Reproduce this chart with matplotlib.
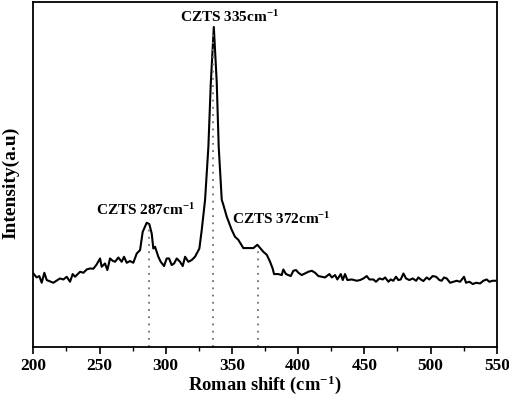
import numpy as np
import matplotlib
matplotlib.use('Agg')
import matplotlib.pyplot as plt
from matplotlib.ticker import MultipleLocator

plt.rcParams['font.family'] = 'Liberation Serif'
plt.rcParams['font.weight'] = 'bold'
plt.rcParams['mathtext.fontset'] = 'custom'
plt.rcParams['mathtext.rm'] = 'Liberation Serif:bold'
plt.rcParams['mathtext.bf'] = 'Liberation Serif:bold'
plt.rcParams['mathtext.default'] = 'bf'

# Raman spectrum (arbitrary intensity units)
shift = [200, 202.5, 204.5, 206.3, 208.3, 210.1, 215.1, 220.1, 222.7, 225.2, 227.7, 229.7,
         231.5, 235.3, 237.8, 240.3, 242.8, 245.3, 247.8, 250.4, 251.6, 254.1, 255.9, 257.9,
         259.9, 261.7, 264.2, 266.7, 268.5, 270.5, 273.0, 275.5, 278.1, 280.6, 282.6, 285.6,
         287.6, 289.4, 290.6, 291.9, 294.4, 296.2, 298.7, 300.7, 302.5, 304.5, 306.3, 308.3,
         310.8, 312.8, 314.6, 317.1, 319.6, 322.1, 325.4, 327.2, 329.7, 332.2, 334.0, 336.3,
         338.5, 340.0, 342.3, 343.5, 346.1, 349.8, 352.3, 354.8, 358.6, 362.4, 366.2, 369.2,
         371.3, 373.7, 376.3, 378.8, 380.8, 381.8, 385.0, 387.6, 388.8, 390.8, 392.6, 394.4,
         396.4, 398.4, 400.2, 402.7, 405.2, 407.7, 410.3, 412.8, 415.3, 417.8, 420.3, 423.6,
         425.4, 427.9, 429.6, 432.2, 433.7, 435.4, 437.2, 440.5, 444.2, 446.8, 449.3, 451.8,
         453.8, 456.8, 458.8, 461.4, 463.9, 465.7, 468.2, 469.9, 471.9, 473.9, 475.7, 477.5,
         479.5, 481.5, 484.0, 486.5, 489.1, 490.8, 492.6, 494.6, 497.1, 499.1, 501.6, 504.2,
         506.7, 508.4, 510.2, 512.2, 514.8, 517.3, 519.8, 522.3, 525.3, 526.8, 529.4, 531.9,
         534.4, 537.4, 539.9, 542.4, 544.4, 546.9, 548.9]
intensity = [73.3, 69.3, 70.7, 64, 74, 66.7, 64, 68.3, 67.3, 70, 65, 72.7,
             70, 75, 74, 77.3, 78.3, 78, 82.3, 88.3, 80, 83.3, 76.7, 88.3,
             86, 85, 89.3, 85, 90, 84, 85.7, 84, 93.3, 96.7, 115, 124,
             122.7, 113.3, 98.3, 100, 90, 85, 80.7, 88.3, 88.3, 81.7, 83.3, 88.3,
             85, 80.7, 90, 85, 86.7, 90, 98.3, 117, 147, 200, 263, 320,
             265, 200, 147, 142, 130, 117, 110, 107, 98.7, 98.7, 98.7, 102,
             98.7, 95, 92, 85, 78, 72.7, 72.7, 71.7, 77.3, 72.7, 71.7, 70.7,
             76, 76.7, 74, 71.7, 73.3, 75, 76, 74, 70.7, 70, 69.3, 72.7,
             69.3, 71.7, 67.3, 72.7, 66.7, 72.7, 66.7, 67.3, 66, 66.7, 68.3, 70.7,
             67.3, 67.3, 65, 68.3, 67.3, 69.3, 65, 67.3, 66, 70, 66.7, 67.3,
             73.3, 68.3, 66.7, 68.3, 66, 69.3, 67.3, 65.7, 69.3, 67.3, 70.7, 70,
             66.7, 66, 69.3, 68.3, 64, 65, 66, 65, 70, 64, 65, 62.7,
             64, 63.3, 66, 67.3, 65, 66, 66]

peaks = [287, 336, 370]
peak_labels = ['CZTS 287cm$^{-1}$', 'CZTS 335cm$^{-1}$', 'CZTS 372cm$^{-1}$']
label_pos = [(285, 137), (348, 330), (387, 128)]

fig = plt.figure(figsize=(5.1, 3.96), dpi=100)
ax = fig.add_axes([0.0654, 0.1245, 0.9086, 0.8705])

ax.plot(shift, intensity, color='black', linewidth=1.5)

tops = np.interp(peaks, shift, intensity)
ax.vlines(peaks, 0, tops, colors='#707070', linestyles=(0, (1, 3)), linewidth=1.3)

for lab, (x, y) in zip(peak_labels, label_pos):
    ax.text(x, y, lab, ha='center', va='center', fontsize=11, fontweight='bold')

ax.set_xlim(200, 550)
ax.set_ylim(0, 345)
ax.xaxis.set_major_locator(MultipleLocator(50))
ax.xaxis.set_minor_locator(MultipleLocator(25))
ax.tick_params(axis='x', which='major', direction='out', length=5, width=1.2, labelsize=12.5, pad=3)
ax.tick_params(axis='x', which='minor', direction='out', length=3, width=1.0)
ax.set_yticks([])
for s in ax.spines.values():
    s.set_linewidth(1.3)

ax.set_xlabel('Roman shift (cm$^{-1}$)', fontsize=13.3, fontweight='bold', labelpad=0)
ax.set_ylabel('Intensity(a.u)', fontsize=14, fontweight='bold')
ax.yaxis.set_label_coords(-0.03, 0.475)

fig.savefig('out.png', dpi=100)
